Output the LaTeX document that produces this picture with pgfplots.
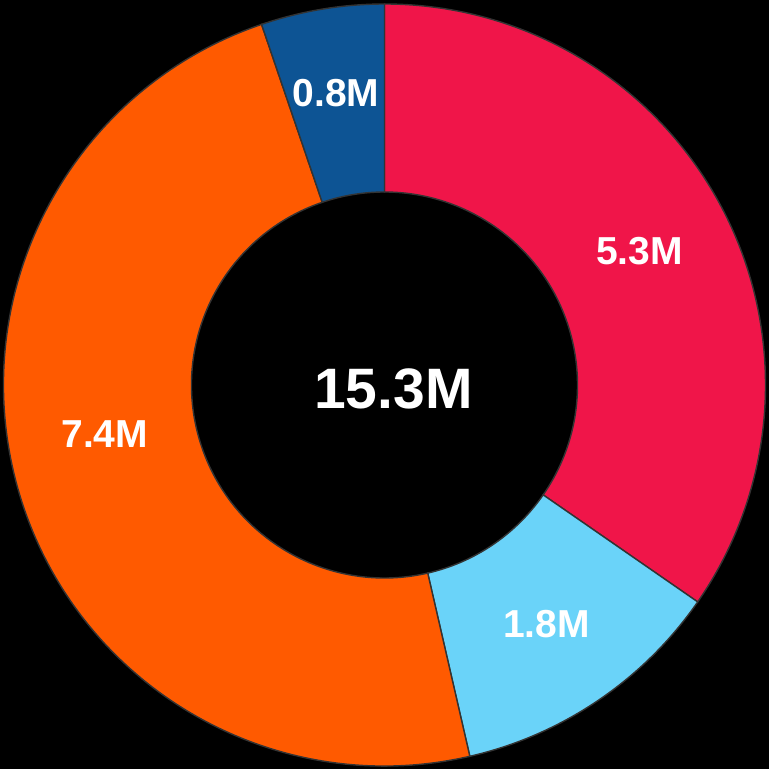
\documentclass[border=0pt]{standalone}
\usepackage{pgfplots}
\pgfplotsset{compat=1.18}
\usepackage{fontspec}
\setmainfont{Liberation Sans}
\usetikzlibrary{backgrounds}

\definecolor{cRed}{HTML}{F01549}
\definecolor{cCyan}{HTML}{6AD3F9}
\definecolor{cOrange}{HTML}{FF5A00}
\definecolor{cBlue}{HTML}{0D5494}

\newcommand\labfont{\fontsize{39}{44}\selectfont\bfseries}
\newcommand\totfont{\fontsize{57}{66}\selectfont\bfseries}

\begin{document}
\begin{tikzpicture}[show background rectangle,
  background rectangle/.style={fill=black, draw=none},
  inner frame sep=0pt,
  lab/.style={text=white, font=\labfont, inner sep=0pt, anchor=center}]
\begin{axis}[
    width=769pt, height=769pt,
    scale only axis,
    hide axis,
    xmin=-384.5, xmax=384.5,
    ymin=-384, ymax=385,
    clip=false]
  % values in millions, clockwise from the top
  % value / colour / label angle shift / label radius
  \def\total{15.3}
  \def\Ro{381}
  \def\Ri{193}
  \xdef\s{90}
  \foreach \v/\c/\sh/\rl in {5.3/cRed/0/288, 1.8/cCyan/0/289, 7.4/cOrange/-6/284, 0.8/cBlue/0/296} {
    \pgfmathsetmacro\e{\s - \v/\total*360}
    \pgfmathsetmacro\m{(\s + \e)/2 + \sh}
    \pgfmathsetmacro\ax{\Ro*cos(\s)}
    \pgfmathsetmacro\ay{\Ro*sin(\s)}
    \pgfmathsetmacro\bx{\Ri*cos(\e)}
    \pgfmathsetmacro\by{\Ri*sin(\e)}
    \pgfmathsetmacro\lx{\rl*cos(\m)}
    \pgfmathsetmacro\ly{\rl*sin(\m)}
    \edef\cmd{%
      \noexpand\filldraw[fill=\c, draw=black!80, line width=1.4pt]
        (axis cs:\ax,\ay) arc[start angle=\s, end angle=\e, radius=\Ro]
        -- (axis cs:\bx,\by) arc[start angle=\e, end angle=\s, radius=\Ri]
        -- cycle;
      \noexpand\node[lab] at (axis cs:\lx,\ly) {\v M};
    }\cmd
    \xdef\s{\e}
  }
  \node[text=white, font=\totfont, inner sep=0pt] at (axis cs:9,-4) {15.3M};
\end{axis}
\pgfresetboundingbox
\useasboundingbox (current axis.south west) rectangle (current axis.north east);
\end{tikzpicture}
\end{document}
